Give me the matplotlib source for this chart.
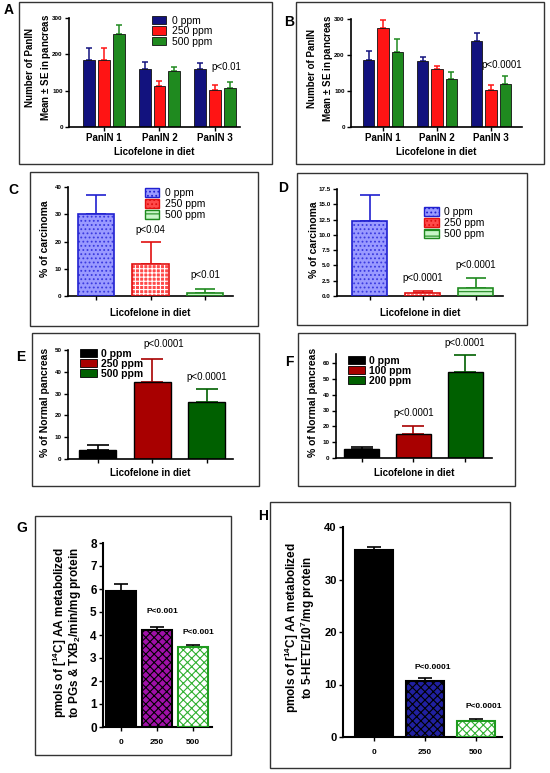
import numpy as np
import matplotlib
matplotlib.use('Agg')
import matplotlib.pyplot as plt
from matplotlib.patches import Patch, Rectangle

plt.rcParams['font.family'] = ['Liberation Sans', 'DejaVu Sans']
plt.rcParams['mathtext.fontset'] = 'custom'
plt.rcParams['mathtext.rm'] = 'Liberation Sans'
plt.rcParams['mathtext.bf'] = 'Liberation Sans:bold'
plt.rcParams['mathtext.default'] = 'bf'
plt.rcParams['hatch.linewidth'] = 0.8

W, H = 550, 773

# ---- data ----
panin_groups = ['PanIN 1', 'PanIN 2', 'PanIN 3']
doses_ab = ['0 ppm', '250 ppm', '500 ppm']
a_mean = [[185, 160, 160], [185, 113, 102], [255, 155, 108]]
a_err = [[32, 18, 16], [32, 14, 14], [25, 10, 16]]
b_mean = [[185, 182, 238], [275, 160, 103], [208, 133, 120]]
b_err = [[25, 13, 22], [22, 10, 15], [37, 20, 21]]

doses_cd = ['0 ppm', '250 ppm', '500 ppm']
c_mean = [30.2, 11.8, 1.1]
c_err = [6.8, 8.2, 1.3]
c_p = ['', 'p<0.04', 'p<0.01']
d_mean = [12.3, 0.45, 1.35]
d_err = [4.3, 0.3, 1.55]
d_p = ['', 'p<0.0001', 'p<0.0001']

doses_e = ['0 ppm', '250 ppm', '500 ppm']
e_mean = [4.0, 35.3, 26.2]
e_err = [2.6, 10.6, 6.0]
e_p = ['', 'p<0.0001', 'p<0.0001']
doses_f = ['0 ppm', '100 ppm', '200 ppm']
f_mean = [5.4, 15.4, 54.6]
f_err = [1.3, 5.0, 10.2]
f_p = ['', 'p<0.0001', 'p<0.0001']

g_doses = ['0', '250', '500']
g_mean = [5.93, 4.2, 3.5]
g_err = [0.3, 0.15, 0.08]
g_p = ['', 'P<0.001', 'P<0.001']
h_doses = ['0', '250', '500']
h_mean = [35.7, 10.6, 3.0]
h_err = [0.55, 0.7, 0.5]
h_p = ['', 'P<0.0001', 'P<0.0001']

fig = plt.figure(figsize=(W / 100, H / 100), dpi=100)


def make_ax(l, t, r, b):
    ax = fig.add_axes([l / W, 1 - b / H, (r - l) / W, (b - t) / H])
    for s in ['top', 'right']:
        ax.spines[s].set_visible(False)
    for s in ['left', 'bottom']:
        ax.spines[s].set_linewidth(1.2)
    ax.tick_params(width=1.0, length=3, direction='out', pad=1.5)
    return ax


def frame(l, t, r, b):
    fig.patches.append(Rectangle((l / W, 1 - b / H), (r - l) / W, (b - t) / H,
                                 transform=fig.transFigure, fill=False,
                                 edgecolor='#333333', linewidth=1.0))


def ftext(x, y, s, **kw):
    fig.text(x / W, 1 - y / H, s, **kw)


def top_err(ax, x, y, e, color, cap, lw=1.2):
    ax.errorbar(x, y, yerr=[[0], [e]], fmt='none', ecolor=color,
                elinewidth=lw, capsize=cap, capthick=lw, zorder=1)


def tick_font(ax, size):
    for lab in ax.get_xticklabels() + ax.get_yticklabels():
        lab.set_fontweight('bold')
        lab.set_fontsize(size)


# ---- frames ----
frame(19, 2, 272, 164)
frame(296, 2, 544, 164)
frame(30, 172, 258, 326)
frame(297, 173, 527, 325)
frame(32, 333, 259, 486)
frame(298, 333, 515, 486)
frame(35, 516, 231, 755)
frame(270, 502, 510, 768)

# ---- A & B ----
ab_colors = ['#12127e', '#ff1414', '#1f8a1f']
for (l, t, r, b), mean, err, ptxt, pxy, xl, lab, lxy in [
        ((69, 18, 240, 127), a_mean, a_err, 'p<0.01', (2.2, 150), (-0.63, 2.45), 'A', (4, 10)),
        ((351, 19, 522, 127), b_mean, b_err, 'p<0.0001', (2.2, 157), (-0.59, 2.57), 'B', (284, 22))]:
    ax = make_ax(l, t, r, b)
    x = np.arange(len(panin_groups))
    for i, d in enumerate(doses_ab):
        xs = x + (i - 1) * 0.265
        ax.bar(xs, mean[i], width=0.21, color=ab_colors[i], edgecolor='#111111',
               linewidth=0.6, label=d, zorder=2)
        for xx, m, e in zip(xs, mean[i], err[i]):
            top_err(ax, xx, m, e, ab_colors[i], 2.5, lw=1.1)
    ax.set_ylim(0, 300)
    ax.set_xlim(*xl)
    ax.set_yticks([0, 100, 200, 300])
    ax.set_xticks(x)
    ax.set_xticklabels(panin_groups)
    tick_font(ax, 4.5)
    for lb in ax.get_xticklabels():
        lb.set_fontsize(7)
    ax.text(pxy[0], pxy[1], ptxt, ha='center', va='bottom', fontsize=7)
    if lab == 'A':
        ax.legend(loc='upper left', bbox_to_anchor=(0.46, 1.06), frameon=False,
                  fontsize=7.5, handlelength=1.4, handleheight=0.9,
                  labelspacing=0.05, handletextpad=0.5, borderaxespad=0)
    cx = (l + r) / 2
    ftext(cx, 152, 'Licofelone in diet', ha='center', va='center',
          fontsize=7, fontweight='bold')
    ftext(l - 30, (t + b) / 2 - 5, 'Number of PanIN\nMean $\\pm$ SE in pancreas',
          rotation=90, ha='center', va='center', fontsize=7, fontweight='bold',
          linespacing=1.35)
    ftext(lxy[0], lxy[1], lab, fontsize=10, fontweight='bold', va='center')

# ---- C & D ----
cd_face = ['#9a9aff', '#ff4a4a', '#c8f5c8']
cd_hatch_col = ['#3a3ae0', 'white', '#1f8a1f']
cd_edge = ['#2020d0', '#e01010', '#1f8a1f']
cd_hatch = ['....', '++++', '---']


def hatched_bars(ax, x, mean, width, face, hcol, edge, hatch, lw=1.2):
    for i in range(len(mean)):
        ax.bar(x[i], mean[i], width=width, color=face[i], edgecolor=hcol[i],
               hatch=hatch[i], linewidth=0, zorder=2)
        ax.bar(x[i], mean[i], width=width, fill=False, edgecolor=edge[i],
               linewidth=lw, zorder=3)


for (l, t, r, b), mean, err, ptxt, pys, xl, ylim, yt, ytl, lab, lxy, legxy in [
        ((68, 187, 233, 296), c_mean, c_err, c_p, [0, 22.5, 6.0], (-0.51, 2.51),
         40, [0, 10, 20, 30, 40], ['0', '10', '20', '30', '40'], 'C', (8, 190), (0.44, 1.03)),
        ((337, 189, 503, 296), d_mean, d_err, d_p, [0, 2.2, 4.2], (-0.62, 2.51),
         17.5, np.arange(0, 17.6, 2.5), ['0.0', '2.5', '5.0', '7.5', '10.0', '12.5', '15.0', '17.5'],
         'D', (278, 188), (0.5, 0.87))]:
    ax = make_ax(l, t, r, b)
    x = np.arange(3)
    hatched_bars(ax, x, mean, 0.66, cd_face, cd_hatch_col, cd_edge, cd_hatch)
    for i in range(3):
        top_err(ax, x[i], mean[i], err[i], cd_edge[i], 7.5)
        if ptxt[i]:
            ax.text(x[i], pys[i], ptxt[i], ha='center', va='bottom', fontsize=7)
    ax.set_ylim(0, ylim)
    ax.set_xlim(*xl)
    ax.set_yticks(yt)
    ax.set_yticklabels(ytl)
    ax.set_xticks(x)
    ax.set_xticklabels([])
    tick_font(ax, 4.5)
    handles = [Patch(facecolor=cd_face[i], edgecolor=cd_edge[i], hatch=['....', '....', '---'][i],
                     linewidth=1.0) for i in range(3)]
    ax.legend(handles, doses_cd, loc='upper left', bbox_to_anchor=legxy, frameon=False,
              fontsize=7.5, handlelength=1.4, handleheight=0.9, labelspacing=0.1,
              handletextpad=0.5, borderaxespad=0)
    ftext((l + r) / 2, 313, 'Licofelone in diet', ha='center', va='center',
          fontsize=7, fontweight='bold')
    ftext(l - 23, (t + b) / 2 - 3, '% of carcinoma', rotation=90, ha='center',
          va='center', fontsize=7.5, fontweight='bold')
    ftext(lxy[0], lxy[1], lab, fontsize=10, fontweight='bold', va='center')

# ---- E & F ----
ef_colors = ['#000000', '#a80000', '#006000']
for (l, t, r, b), mean, err, ptxt, pxs, pys, xl, ylim, yt, doses, lab, lxy, legxy in [
        ((68, 350, 233, 459), e_mean, e_err, e_p, [0, 0.2, 0], [0, 50.5, 35.5], (-0.55, 2.48),
         50, [0, 10, 20, 30, 40, 50], doses_e, 'E', (16, 357), (0.05, 1.05)),
        ((336, 353.5, 492, 458), f_mean, f_err, f_p, [0, 0, 0], [0, 25.5, 69.5], (-0.5, 2.52),
         66, [0, 10, 20, 30, 40, 50, 60], doses_f, 'F', (285, 362), (0.05, 1.02))]:
    ax = make_ax(l, t, r, b)
    x = np.arange(3)
    ax.bar(x, mean, width=0.68, color=ef_colors, edgecolor='black', linewidth=1.0, zorder=2)
    for i in range(3):
        top_err(ax, x[i], mean[i], err[i], ef_colors[i], 8)
        if ptxt[i]:
            ax.text(x[i] + pxs[i], pys[i], ptxt[i], ha='center', va='bottom', fontsize=7)
    ax.set_ylim(0, ylim)
    ax.set_xlim(*xl)
    ax.set_yticks(yt)
    ax.set_xticks(x)
    ax.set_xticklabels([])
    tick_font(ax, 4.5)
    handles = [Patch(facecolor=ef_colors[i], edgecolor='black', linewidth=0.6) for i in range(3)]
    leg = ax.legend(handles, doses, loc='upper left', bbox_to_anchor=legxy, frameon=False,
                    fontsize=7.5, handlelength=1.6, handleheight=0.8, labelspacing=0.0,
                    handletextpad=0.4, borderaxespad=0)
    for tx in leg.get_texts():
        tx.set_fontweight('bold')
    ftext((l + r) / 2, 473, 'Licofelone in diet', ha='center', va='center',
          fontsize=7, fontweight='bold')
    ftext(l - 23, 402, '% of Normal pancreas', rotation=90, ha='center',
          va='center', fontsize=7.5, fontweight='bold')
    ftext(lxy[0], lxy[1], lab, fontsize=10, fontweight='bold', va='center')

# ---- G & H ----
for (l, t, r, b), mean, err, ptxt, pys, xl, ylim, yt, doses, face, hcol, edge, width, ylab, ylx, yfs, lab, lxy in [
        ((103, 543, 212, 727), g_mean, g_err, g_p, [0, 4.85, 3.95], (-0.5, 2.53), 8,
         np.arange(0, 9), g_doses,
         ['black', '#a010a8', 'white'], ['black', 'black', '#30b030'], ['black', 'black', '#1f9a1f'],
         0.83, 'pmols of [$^{14}$C] AA metabolized\nto PGs & TXB$_2$/min/mg protein', 67, 8.5, 'G', (16, 528)),
        ((343, 527, 502, 737), h_mean, h_err, h_p, [0, 12.5, 5.2], (-0.61, 2.51), 40,
         [0, 10, 20, 30, 40], h_doses,
         ['black', '#2020a0', 'white'], ['black', 'black', '#30b030'], ['black', 'black', '#1f9a1f'],
         0.73, 'pmols of [$^{14}$C] AA metabolized\nto 5-HETE/10$^7$/mg protein', 300, 8, 'H', (258, 516))]:
    ax = make_ax(l, t, r, b)
    x = np.arange(3)
    hatched_bars(ax, x, mean, width, face, hcol, edge, ['', 'xxxx', 'xxxx'], lw=1.5)
    for i in range(3):
        top_err(ax, x[i], mean[i], err[i], 'black', 5)
        if ptxt[i]:
            ax.text(x[i] + 0.15, pys[i], ptxt[i], ha='center', va='bottom',
                    fontsize=6, fontweight='bold')
    ax.set_ylim(0, ylim)
    ax.set_xlim(*xl)
    ax.set_yticks(yt)
    ax.set_xticks(x)
    ax.set_xticklabels(doses)
    ax.spines['left'].set_linewidth(1.5)
    ax.spines['bottom'].set_linewidth(1.5)
    tick_font(ax, yfs)
    for lb in ax.get_xticklabels():
        lb.set_fontsize(6)
    ax.tick_params(axis='x', pad=6)
    ftext(ylx, (t + b) / 2 + (-2 if lab == 'G' else -4), ylab, rotation=90, ha='center', va='center',
          fontsize=8.5, fontweight='bold', linespacing=0.8)
    ftext(lxy[0], lxy[1], lab, fontsize=10, fontweight='bold', va='center')

fig.savefig('out.png', dpi=100)
